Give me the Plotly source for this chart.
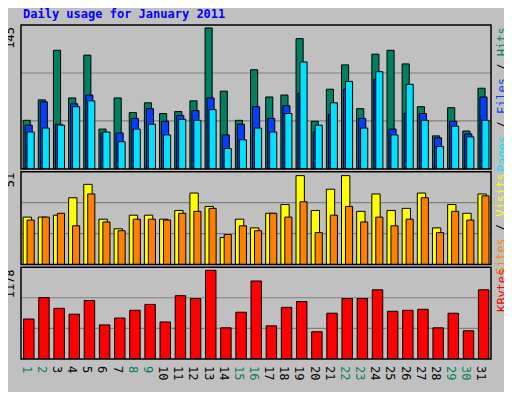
import plotly.graph_objects as go

days = list(range(1, 32))
weekend = [1, 2, 8, 9, 15, 16, 22, 23, 29, 30]

hits = [50, 71, 122, 73, 117, 41, 73, 58, 68, 57, 59, 70, 145, 80, 50, 102,
        74, 76, 134, 49, 82, 107, 62, 118, 122, 108, 64, 34, 63, 39, 83]
files = [45, 69, 46, 67, 76, 37, 37, 52, 62, 49, 55, 60, 73, 35, 46, 64,
         52, 65, 78, 38, 56, 82, 52, 92, 41, 57, 57, 32, 49, 36, 74]
pages = [38, 42, 45, 64, 70, 38, 28, 41, 46, 35, 51, 50, 61, 21, 30, 42,
         38, 57, 110, 45, 68, 90, 42, 100, 35, 87, 50, 23, 44, 33, 50]
visits = [27.2, 27.2, 28.3, 38.3, 46, 26, 20.5, 28.3, 28.3, 26, 31, 41, 33.3, 15.5, 26, 21,
          29.4, 34.4, 51, 31, 43.2, 51, 30.5, 40.5, 31, 32.2, 41, 21, 34.4, 29.4, 40.5]
sites = [25.5, 27.2, 29.4, 22.2, 40.5, 24.4, 19.4, 26, 26, 25.5, 29.4, 30.5, 32.2, 17.2, 22.2, 19.4,
         29.4, 27.2, 36, 18.3, 28.3, 33.3, 24.4, 27.2, 22.2, 26, 38.3, 18.3, 30.5, 25.5, 39.4]
kbytes = [531, 816, 673, 595, 777, 453, 544, 647, 725, 492, 841, 803, 1178, 414, 621, 1036,
          440, 686, 764, 362, 608, 803, 803, 919, 634, 647, 660, 414, 608, 375, 919]

BG = "#C0C0C0"
FONT = "DejaVu Sans Mono"

fig = go.Figure()

def bars(vals, color, off, w, yaxis):
    fig.add_trace(go.Bar(x=days, y=vals, offset=off, width=w, yaxis=yaxis,
                         marker=dict(color=color, line=dict(color="black", width=1))))

bars(hits, "#008060", -0.36, 0.47, "y")
bars(files, "#0040FF", -0.23, 0.47, "y")
bars(pages, "#00E0FF", -0.1, 0.47, "y")
bars(visits, "#FFFF00", -0.36, 0.55, "y2")
bars(sites, "#FF8000", -0.1, 0.47, "y2")
bars(kbytes, "#FF0000", -0.33, 0.69, "y3")

ranges = {"y": 148, "y2": 53.3, "y3": 1220}
doms = {"y": [0.569, 1], "y2": [0.283, 0.561], "y3": [0, 0.275]}
labels = {"y": "145", "y2": "51", "y3": "1178"}

shapes = []
annos = []
for ax, R in ranges.items():
    for k in (1, 2):
        shapes.append(dict(type="line", xref="paper", yref=ax, x0=0, x1=1, y0=R * k / 3, y1=R * k / 3,
                           line=dict(color="#808080", width=1.2), layer="below"))
    d = doms[ax]
    shapes.append(dict(type="rect", xref="paper", yref="paper", x0=0, x1=1, y0=d[0], y1=d[1],
                       line=dict(color="black", width=1.5)))
    annos.append(dict(text=labels[ax], xref="paper", yref="paper",
                      x=-0.005, y=d[1], xanchor="right", yanchor="top", textangle=-90,
                      showarrow=False, font=dict(family=FONT, size=12, color="black")))

side = [("<span style='color:#00E0FF'>Pages</span> / <span style='color:#0040FF'>Files</span> / "
         "<span style='color:#008060'>Hits</span>", 1.0),
        ("<span style='color:#FF8000'>Sites</span> / <span style='color:#FFFF00'>Visits</span>", 0.561),
        ("<span style='color:#FF0000'>KBytes</span>", 0.275)]
for txt, yy in side:
    annos.append(dict(text=txt, xref="paper", yref="paper", x=1.003, y=yy, xanchor="left",
                      yanchor="top", textangle=-90, showarrow=False,
                      font=dict(family=FONT, size=12, color="black")))

annos.append(dict(text="<b>Daily usage for January 2011</b>", xref="paper", yref="paper",
                  x=0.0, y=1.0, xanchor="left", yanchor="bottom", yshift=2, showarrow=False,
                  font=dict(family=FONT, size=12, color="#0000FF")))

ticktext = [f"<span style='color:{'#008060' if d in weekend else 'black'}'>{d}</span>" for d in days]

# page body has an 8px margin, so the figure is drawn 16px smaller
fig.update_layout(
    width=496, height=384, margin=dict(l=12, r=13, t=17, b=14),
    paper_bgcolor=BG, plot_bgcolor=BG, barmode="overlay", showlegend=False,
    font=dict(family=FONT, size=12),
    xaxis=dict(range=[0.5, 31.5], tickvals=days, ticktext=ticktext, ticks="", showgrid=False,
               zeroline=False, anchor="y3", tickfont=dict(size=12)),
    yaxis=dict(domain=doms["y"], range=[0, ranges["y"]], showticklabels=False, showgrid=False, zeroline=False),
    yaxis2=dict(domain=doms["y2"], range=[0, ranges["y2"]], showticklabels=False, showgrid=False, zeroline=False),
    yaxis3=dict(domain=doms["y3"], range=[0, ranges["y3"]], showticklabels=False, showgrid=False, zeroline=False),
    shapes=shapes,
    annotations=annos,
)

fig.write_html("out.html")
